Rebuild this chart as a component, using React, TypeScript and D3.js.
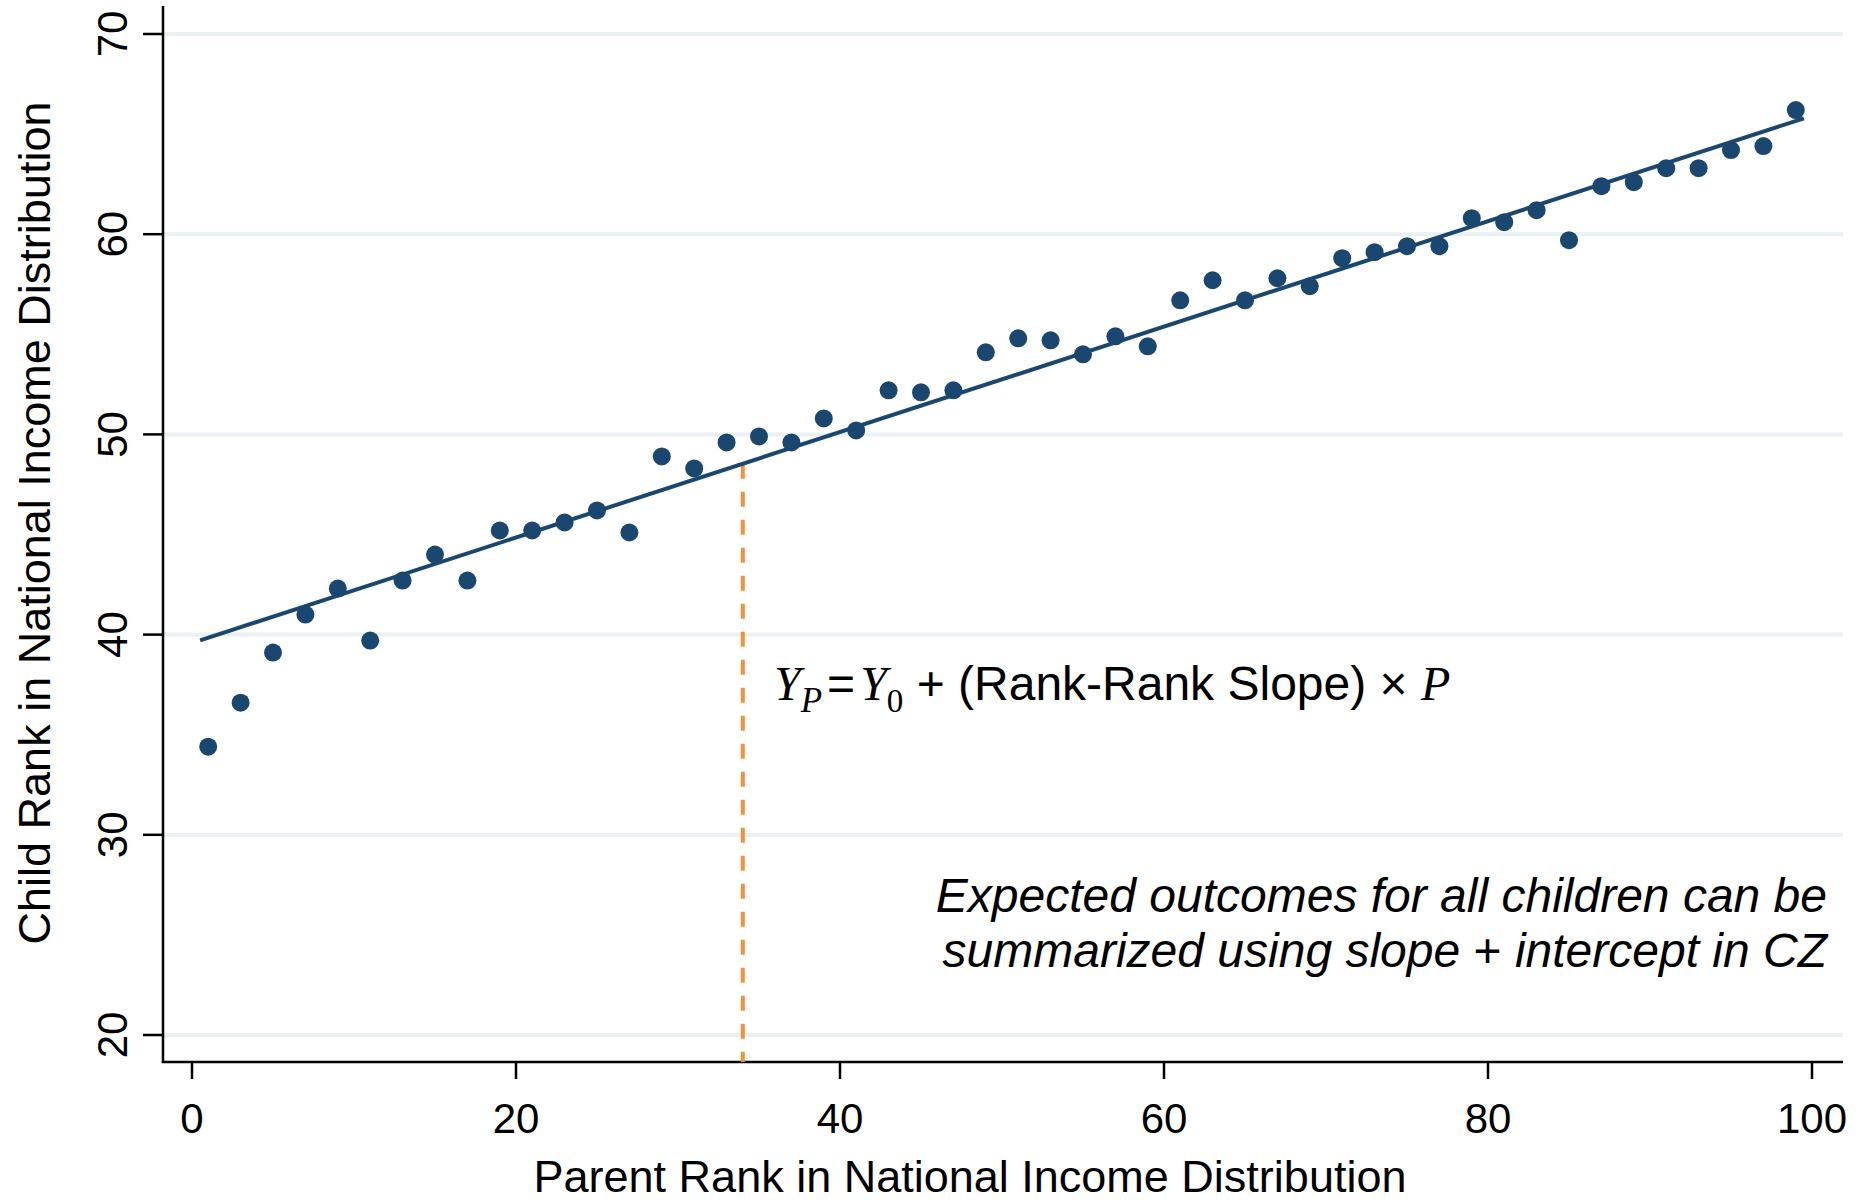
import React from "react";
import * as d3 from "d3";

const parentRank = [1, 3, 5, 7, 9, 11, 13, 15, 17, 19, 21, 23, 25, 27, 29, 31, 33, 35, 37, 39, 41, 43, 45, 47, 49, 51, 53, 55, 57, 59, 61, 63, 65, 67, 69, 71, 73, 75, 77, 79, 81, 83, 85, 87, 89, 91, 93, 95, 97, 99];
const childRank = [34.4, 36.6, 39.1, 41.0, 42.3, 39.7, 42.7, 44.0, 42.7, 45.2, 45.2, 45.6, 46.2, 45.1, 48.9, 48.3, 49.6, 49.9, 49.6, 50.8, 50.2, 52.2, 52.1, 52.2, 54.1, 54.8, 54.7, 54.0, 54.9, 54.4, 56.7, 57.7, 56.7, 57.8, 57.4, 58.8, 59.1, 59.4, 59.4, 60.8, 60.6, 61.2, 59.7, 62.4, 62.6, 63.3, 63.3, 64.2, 64.4, 66.2];
const xTicks = [0, 20, 40, 60, 80, 100];
const yTicks = [20, 30, 40, 50, 60, 70];
const fitIntercept = 39.58;
const fitSlope = 0.2634;
const fitRange = [0.5, 99.5];
const markerRank = 34;
const xTitle = "Parent Rank in National Income Distribution";
const yTitle = "Child Rank in National Income Distribution";
const noteLine1 = "Expected outcomes for all children can be";
const noteLine2a = "summarized using slope ";
const noteLine2b = "+";
const noteLine2c = " intercept in CZ";

const W = 1863;
const H = 1202;
const frame = { left: 163, right: 1843, top: 6, bottom: 1062 };
const NAVY = "#1a476f";
const GRID = "#e9f1f3";
const ORANGE = "#f4913a";
const SANS = "'Liberation Sans', Arial, Helvetica, sans-serif";
const SERIF = "'Liberation Serif', 'Times New Roman', serif";

export default function App() {
  const x = d3.scaleLinear().domain([0, 100]).range([192, 1812]);
  const y = d3.scaleLinear().domain([20, 70]).range([1035, 34]);
  const fitLine = d3
    .line<number>()
    .x((d) => x(d))
    .y((d) => y(fitIntercept + fitSlope * d));
  const fitPath = fitLine(fitRange) || "";
  const mx = x(markerRank);
  const my = y(fitIntercept + fitSlope * markerRank);

  return (
    <svg
      width={W}
      height={H}
      viewBox={`0 0 ${W} ${H}`}
      style={{ position: "absolute", left: 0, top: 0, background: "#fff" }}
    >
      <defs>
        <filter id="blur" x="-50%" y="-10%" width="200%" height="120%">
          <feGaussianBlur stdDeviation="2.5" />
        </filter>
      </defs>
      <rect x={0} y={0} width={W} height={H} fill="#fff" />
      {yTicks.map((t) => (
        <line
          key={"g" + t}
          x1={frame.left}
          x2={frame.right}
          y1={y(t)}
          y2={y(t)}
          stroke={GRID}
          strokeWidth={4}
        />
      ))}
      <line x1={frame.left} x2={frame.left} y1={frame.top} y2={frame.bottom} stroke="#000" strokeWidth={2.5} />
      <line x1={frame.left - 1.25} x2={frame.right} y1={frame.bottom} y2={frame.bottom} stroke="#000" strokeWidth={2.5} />
      {yTicks.map((t) => (
        <g key={"yt" + t}>
          <line x1={frame.left - 20} x2={frame.left} y1={y(t)} y2={y(t)} stroke="#000" strokeWidth={2.5} />
          <text
            transform={`translate(127,${y(t)}) rotate(-90)`}
            textAnchor="middle"
            fontFamily={SANS}
            fontSize={42}
            fill="#000"
          >
            {t}
          </text>
        </g>
      ))}
      {xTicks.map((t) => (
        <g key={"xt" + t}>
          <line x1={x(t)} x2={x(t)} y1={frame.bottom} y2={frame.bottom + 17} stroke="#000" strokeWidth={2.5} />
          <text x={x(t)} y={1133} textAnchor="middle" fontFamily={SANS} fontSize={42} fill="#000">
            {t}
          </text>
        </g>
      ))}
      <text x={970} y={1192} textAnchor="middle" fontFamily={SANS} fontSize={45} fill="#000">
        {xTitle}
      </text>
      <text
        transform={`translate(50,523) rotate(-90)`}
        textAnchor="middle"
        fontFamily={SANS}
        fontSize={45}
        fill="#000"
      >
        {yTitle}
      </text>
      <line
        x1={mx + 8}
        x2={mx + 8}
        y1={my + 4}
        y2={frame.bottom}
        stroke="#9a9a9a"
        strokeWidth={5}
        strokeDasharray="15 13"
        opacity={0.6}
        filter="url(#blur)"
      />
      <line x1={mx} x2={mx} y1={my} y2={frame.bottom} stroke={ORANGE} strokeWidth={4} strokeDasharray="15 13" />
      {parentRank.map((p, i) => (
        <circle key={"c" + p} cx={x(p)} cy={y(childRank[i])} r={9} fill={NAVY} />
      ))}
      <path d={fitPath} fill="none" stroke={NAVY} strokeWidth={4} />
      <text x={774} y={700} fontSize={48} fill="#000" fontFamily={SANS}>
        <tspan fontFamily={SERIF} fontStyle="italic">Y</tspan>
        <tspan fontFamily={SERIF} fontStyle="italic" fontSize={35} dy={12}>P</tspan>
        <tspan dy={-12} dx={5}>=</tspan>
        <tspan fontFamily={SERIF} fontStyle="italic" dx={5}>Y</tspan>
        <tspan fontFamily={SERIF} fontSize={33} dy={12}>0</tspan>
        <tspan dy={-12}>{" + (Rank-Rank Slope) × "}</tspan>
        <tspan fontFamily={SERIF} fontStyle="italic">P</tspan>
      </text>
      <text x={1827} y={912} textAnchor="end" fontFamily={SANS} fontStyle="italic" fontSize={48} fill="#000">
        {noteLine1}
      </text>
      <text x={1827} y={967} textAnchor="end" fontFamily={SANS} fontSize={48} fill="#000">
        <tspan fontStyle="italic">{noteLine2a}</tspan>
        <tspan>{noteLine2b}</tspan>
        <tspan fontStyle="italic">{noteLine2c}</tspan>
      </text>
    </svg>
  );
}
